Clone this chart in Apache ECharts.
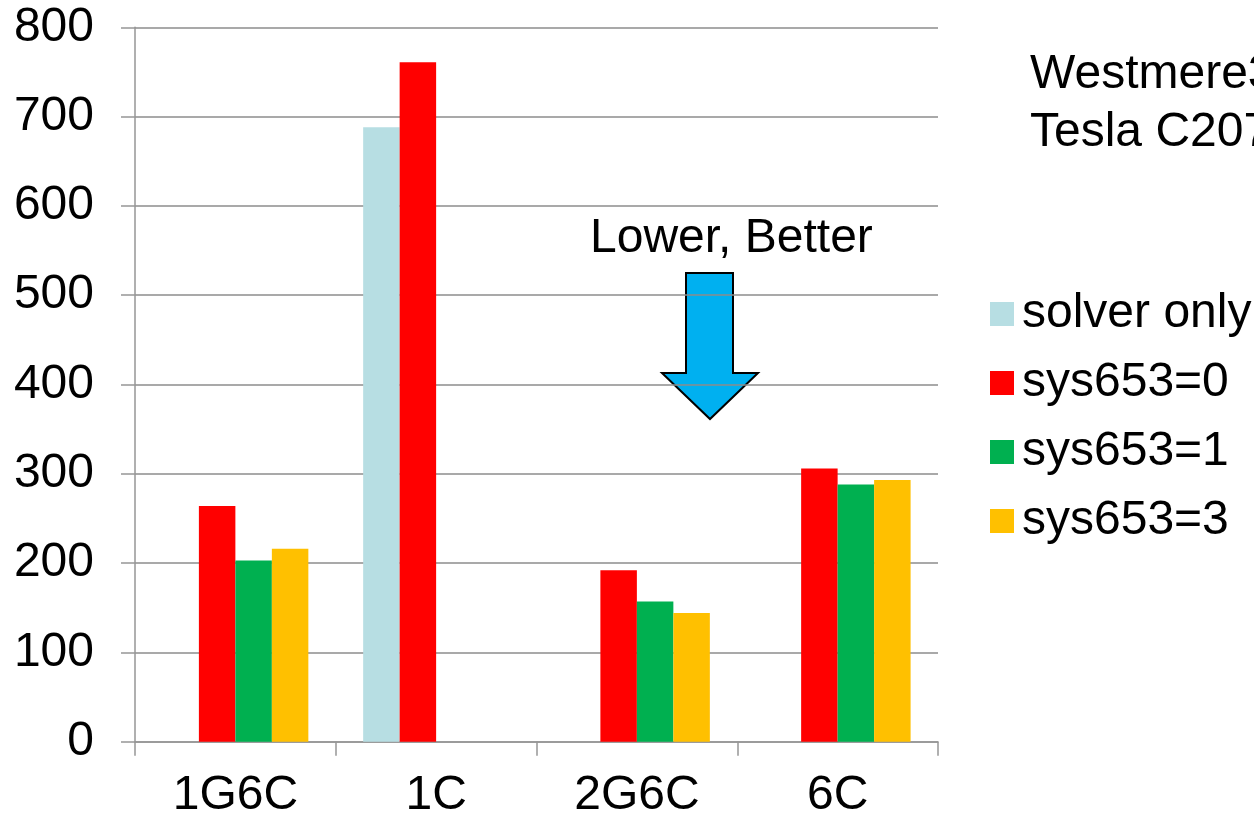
<!DOCTYPE html>
<html>
<head>
<meta charset="utf-8">
<script src="https://cdn.jsdelivr.net/npm/echarts@6/dist/echarts.min.js"></script>
<style>
  html, body { margin: 0; padding: 0; background: #fff; }
  #chart { width: 1254px; height: 817px; }
</style>
</head>
<body>
<div id="chart"></div>
<script>
// Run-time comparison per configuration
const categories = ['1G6C', '1C', '2G6C', '6C'];
const solverOnly = [null, 688, null, null];
const sys653_0 = [264, 761, 192, 306];
const sys653_1 = [203, null, 157, 288];
const sys653_3 = [216, null, 144, 293];
const yTicks = { min: 0, max: 800, interval: 100 };

const FONT = '"Liberation Sans", Arial, sans-serif';
const FS = 48;
const chart = echarts.init(document.getElementById('chart'), null, { renderer: 'canvas' });

function barSeries(name, data, color) {
  return {
    name: name,
    type: 'bar',
    data: data,
    barGap: '0%',
    barCategoryGap: '27.3%',
    itemStyle: { color: color },
    emphasis: { disabled: true }
  };
}

chart.setOption({
  animation: false,
  backgroundColor: '#ffffff',
  textStyle: { fontFamily: FONT },
  grid: {
    left: 135, right: 316, top: 27.3, bottom: 75.3,
    containLabel: false,
    outerBoundsMode: 'none'
  },
  xAxis: {
    type: 'category',
    data: categories,
    axisLine: { lineStyle: { color: '#969696', width: 1.5 } },
    axisTick: { show: true, length: 14, lineStyle: { color: '#969696', width: 1.5 } },
    axisLabel: { color: '#000', fontSize: FS, fontFamily: FONT, margin: 30 }
  },
  yAxis: {
    type: 'value',
    min: yTicks.min,
    max: yTicks.max,
    interval: yTicks.interval,
    axisLine: { show: true, lineStyle: { color: '#969696', width: 1.5 } },
    axisTick: { show: true, length: 14, lineStyle: { color: '#969696', width: 1.5 } },
    axisLabel: { color: '#000', fontSize: FS, fontFamily: FONT, margin: 41 },
    splitLine: { show: true, lineStyle: { color: '#8c8c8c', width: 1.5 } }
  },
  legend: {
    orient: 'vertical',
    left: 985,
    top: 285,
    itemWidth: 24,
    itemHeight: 24,
    itemGap: 21,
    icon: 'rect',
    data: ['solver only', 'sys653=0', 'sys653=1', 'sys653=3'],
    textStyle: { color: '#000', fontSize: FS, fontFamily: FONT, padding: [0, 0, 0, 3] }
  },
  graphic: [
    {
      type: 'text',
      left: 1030, top: 51,
      style: { text: 'Westmere3.33GHz', fill: '#000', font: FS + 'px ' + FONT }
    },
    {
      type: 'text',
      left: 1030, top: 109,
      style: { text: 'Tesla C2070', fill: '#000', font: FS + 'px ' + FONT }
    },
    {
      type: 'text',
      left: 590, top: 215,
      style: { text: 'Lower, Better', fill: '#000', font: FS + 'px ' + FONT }
    },
    {
      type: 'polygon',
      shape: {
        points: [[686, 273], [733, 273], [733, 373], [758, 373], [710, 419], [662, 373], [686, 373]]
      },
      style: { fill: '#00B0F0', stroke: '#000', lineWidth: 2 }
    }
  ],
  series: [
    barSeries('solver only', solverOnly, '#B7DEE3'),
    barSeries('sys653=0', sys653_0, '#FF0000'),
    barSeries('sys653=1', sys653_1, '#00B050'),
    barSeries('sys653=3', sys653_3, '#FFC000')
  ]
});
</script>
</body>
</html>
